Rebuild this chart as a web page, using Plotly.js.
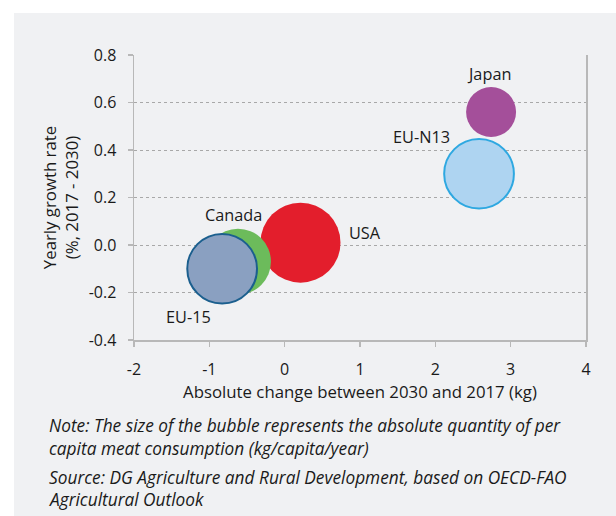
<!DOCTYPE html>
<html>
<head>
<meta charset="utf-8">
<script src="https://cdn.plot.ly/plotly-3.0.1.min.js"></script>
<style>
  html, body { margin: 0; padding: 0; background: #ffffff; width: 616px; height: 516px; overflow: hidden; }
  #chart { position: absolute; left: 14px; top: 13px; width: 602px; height: 503px; }
</style>
</head>
<body>
<div id="chart"></div>
<script>
// Data
const regions = ['Japan', 'EU-N13', 'USA', 'Canada', 'EU-15'];
const absoluteChange = [2.74, 2.58, 0.21, -0.62, -0.83];      // kg, 2030 vs 2017
const yearlyGrowth = [0.56, 0.30, 0.01, -0.07, -0.10];        // %, 2017-2030
const consumption = [39, 76, 100, 68, 76];                    // kg/capita/year (bubble size)

// Tick labels
const xTickVals = [-2, -1, 0, 1, 2, 3, 4];
const xTickText = ['-2', '-1', '0', '1', '2', '3', '4'];
const yTickVals = [-0.4, -0.2, 0, 0.2, 0.4, 0.6, 0.8];
const yTickText = ['-0.4', '-0.2', '0.0', '0.2', '0.4', '0.6', '0.8'];

const fillColors = ['#a44f9a', '#aed4f1', '#e31e2c', '#6cbb5b', '#8aa0c1'];
const lineColors = ['#a44f9a', '#2ea8e1', '#e31e2c', '#6cbb5b', '#1b5f8e'];
const lineWidths = [0, 2, 0, 0, 2];

// Label offsets (pixels) from each bubble centre
const labelShiftX = [-2, -58, 65, -4, -34];
const labelShiftY = [38, 37, 10, 47, -48];

const font = 'Open Sans, Noto Sans, DejaVu Sans, sans-serif';
const ink = '#1a1a1a';

const trace = {
  type: 'scatter',
  mode: 'markers',
  x: absoluteChange,
  y: yearlyGrowth,
  text: regions,
  hoverinfo: 'text',
  marker: {
    size: consumption,
    sizemode: 'area',
    sizeref: 2 * 100 / (80 * 80),
    color: fillColors,
    opacity: 1,
    line: { color: lineColors, width: lineWidths }
  },
  showlegend: false
};

const annotations = regions.map((r, i) => ({
  x: absoluteChange[i], y: yearlyGrowth[i], xref: 'x', yref: 'y',
  text: r, showarrow: false, xanchor: 'center', yanchor: 'middle',
  xshift: labelShiftX[i], yshift: labelShiftY[i],
  font: { family: font, size: 16.3, color: ink }
}));

const notes = [
  { text: '<i>Note: The size of the bubble represents the absolute quantity of per</i>', dy: 85 },
  { text: '<i>capita meat consumption (kg/capita/year)</i>', dy: 108 },
  { text: '<i>Source: DG Agriculture and Rural Development, based on OECD-FAO</i>', dy: 137 },
  { text: '<i>Agricultural Outlook</i>', dy: 159 }
];
notes.forEach(n => annotations.push({
  x: 0, y: 0, xref: 'paper', yref: 'paper', xanchor: 'left', yanchor: 'middle',
  xshift: -87, yshift: -n.dy, showarrow: false, align: 'left',
  text: n.text, font: { family: font, size: 17.3, color: ink }
}));

const layout = {
  width: 602, height: 503,
  margin: { l: 120, r: 30, t: 42, b: 176 },
  paper_bgcolor: '#f0f1f3',
  plot_bgcolor: 'rgba(0,0,0,0)',
  font: { family: font, size: 16, color: ink },
  xaxis: {
    range: [-2, 4], tickmode: 'array', tickvals: xTickVals, ticktext: xTickText,
    showgrid: false, zeroline: false,
    showline: true, linecolor: '#b8b8b8', linewidth: 1.5,
    ticks: 'outside', ticklen: 5, tickcolor: '#b8b8b8', tickwidth: 1.5,
    ticklabelstandoff: 9,
    tickfont: { family: font, size: 16, color: ink },
    title: { text: 'Absolute change between 2030 and 2017 (kg)', font: { family: font, size: 16.8, color: ink }, standoff: 4 }
  },
  yaxis: {
    range: [-0.4, 0.8], tickmode: 'array', tickvals: yTickVals, ticktext: yTickText,
    showgrid: true, gridcolor: '#a8a8a8', griddash: 'dot', gridwidth: 1,
    zeroline: false,
    showline: true, mirror: true, linecolor: '#b8b8b8', linewidth: 1.5,
    ticks: 'outside', ticklen: 5, tickcolor: '#b8b8b8', tickwidth: 1.5,
    ticklabelstandoff: 8,
    tickfont: { family: font, size: 16, color: ink },
    title: { text: 'Yearly growth rate<br>(%, 2017 - 2030)', font: { family: font, size: 16.8, color: ink }, standoff: 6 }
  },
  annotations: annotations
};

Plotly.newPlot('chart', [trace], layout, { displayModeBar: false, staticPlot: true });
</script>
</body>
</html>
